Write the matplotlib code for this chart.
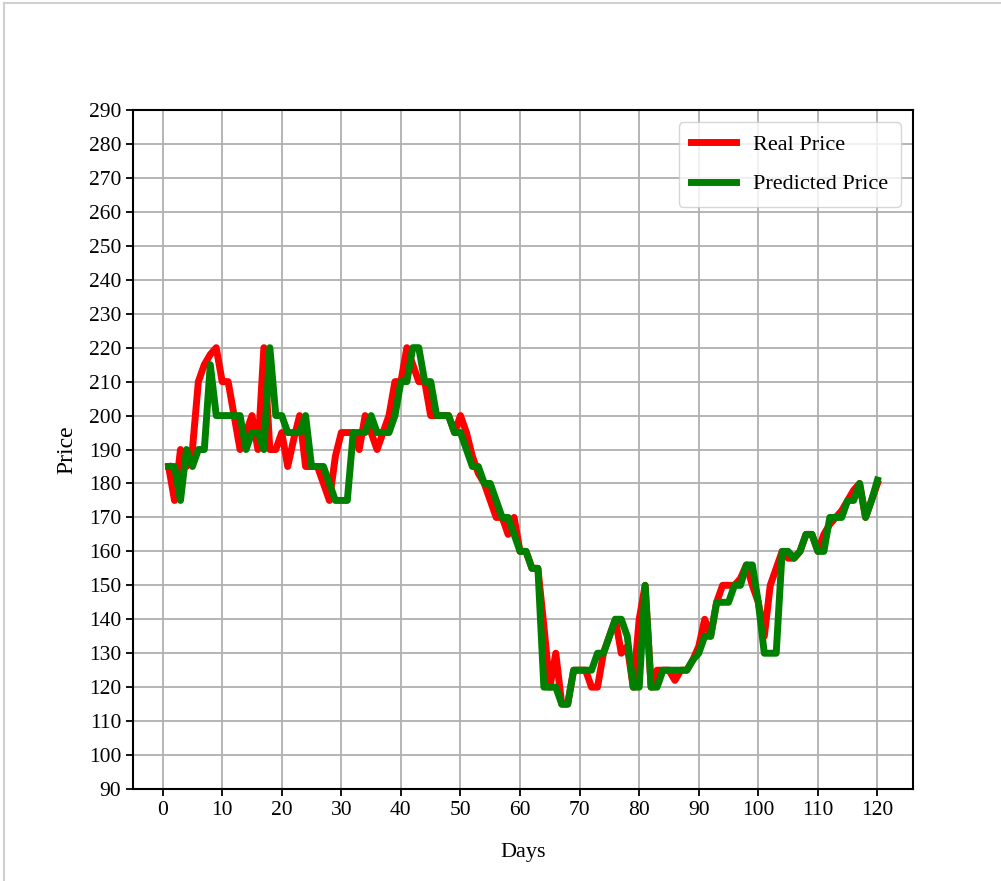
import matplotlib
matplotlib.use("Agg")
import matplotlib.pyplot as plt
from matplotlib.lines import Line2D

plt.rcParams['font.family'] = ['Liberation Serif', 'DejaVu Serif']

# days 1..120
days = list(range(1, 121))

real_price = [
    185, 175, 190, 185, 190, 210, 215, 218, 220, 210,   # 1-10
    210, 200, 190, 195, 200, 190, 220, 190, 190, 195,   # 11-20
    185, 193, 200, 185, 185, 185, 180, 175, 188, 195,   # 21-30
    195, 195, 190, 200, 195, 190, 195, 200, 210, 210,   # 31-40
    220, 215, 210, 210, 200, 200, 200, 200, 195, 200,   # 41-50
    195, 188, 183, 180, 175, 170, 170, 165, 170, 160,   # 51-60
    160, 155, 155, 138, 120, 130, 115, 115, 125, 125,   # 61-70
    125, 120, 120, 130, 135, 140, 130, 132, 120, 140,   # 71-80
    150, 120, 125, 125, 125, 122, 125, 125, 128, 132,   # 81-90
    140, 135, 145, 150, 150, 150, 152, 156, 150, 145,   # 91-100
    135, 150, 155, 160, 158, 158, 160, 165, 165, 160,   # 101-110
    165, 168, 170, 172, 175, 178, 180, 170, 175, 180,   # 111-120
]

predicted_price = [
    185, 185, 175, 190, 185, 190, 190, 215, 200, 200,   # 1-10
    200, 200, 200, 190, 195, 195, 190, 220, 200, 200,   # 11-20
    195, 195, 195, 200, 185, 185, 185, 180, 175, 175,   # 21-30
    175, 195, 195, 195, 200, 195, 195, 195, 200, 210,   # 31-40
    210, 220, 220, 210, 210, 200, 200, 200, 195, 195,   # 41-50
    190, 185, 185, 180, 180, 175, 170, 170, 165, 160,   # 51-60
    160, 155, 155, 120, 120, 120, 115, 115, 125, 125,   # 61-70
    125, 125, 130, 130, 135, 140, 140, 135, 120, 120,   # 71-80
    150, 120, 120, 125, 125, 125, 125, 125, 128, 130,   # 81-90
    135, 135, 145, 145, 145, 150, 150, 156, 156, 145,   # 91-100
    130, 130, 130, 160, 160, 158, 160, 165, 165, 160,   # 101-110
    160, 170, 170, 170, 175, 175, 180, 170, 175, 181,   # 111-120
]

x_ticks = list(range(0, 121, 10))
y_ticks = list(range(90, 291, 10))

fig = plt.figure(figsize=(10.01, 8.81), dpi=100)
ax = fig.add_axes([0.133, 0.1044, 0.779, 0.7707])

ax.plot(days, real_price, color='red', linewidth=5, label='Real Price')
ax.plot(days, predicted_price, color='green', linewidth=5, label='Predicted Price')

ax.set_xticks(x_ticks)
ax.set_yticks(y_ticks)
ax.set_ylim(90, 290)
ax.tick_params(labelsize=15.5, width=1.3, length=5)
ax.grid(True, color='#b0b0b0', linewidth=1.3)
for s in ax.spines.values():
    s.set_linewidth(1.5)

ax.set_xlabel('Days', fontsize=16, labelpad=17)
ax.set_ylabel('Price', fontsize=17, labelpad=8)
ax.legend(loc='upper right', fontsize=16, handlelength=2.0,
          labelspacing=0.85, borderpad=0.55, borderaxespad=0.55)

# thin grey frame of the screenshot
fig.add_artist(Line2D([0.004, 0.004], [0, 0.997], color='#d0d0d0', linewidth=1.5))
fig.add_artist(Line2D([0.004, 1.0], [0.997, 0.997], color='#d0d0d0', linewidth=1.5))

fig.savefig('out.png', dpi=100)
